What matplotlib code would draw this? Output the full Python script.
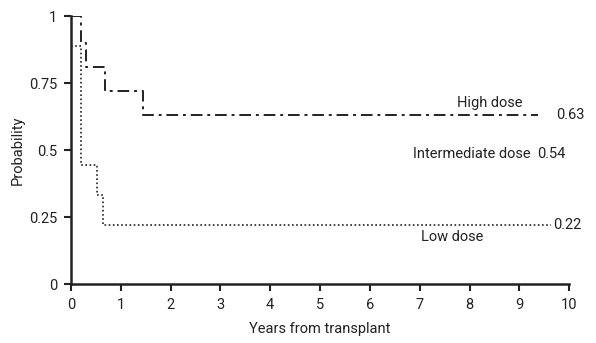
import matplotlib
matplotlib.use("Agg")
from matplotlib import pyplot as plt

plt.rcParams['font.family'] = ['Roboto', 'DejaVu Sans']

# Kaplan-Meier style step curves (years, probability)
high_t = [0, 0.2, 0.3, 0.68, 1.45, 9.38]
high_p = [1.0, 0.9, 0.81, 0.72, 0.63, 0.63]
low_t = [0, 0.2, 0.52, 0.64, 9.64]
low_p = [0.889, 0.444, 0.333, 0.222, 0.222]

xticks = list(range(0, 11))
yticks = [0, 0.25, 0.5, 0.75, 1]
yticklabels = ['0', '0.25', '0.5', '0.75', '1']

ink = '#222222'
fs = 10.5

fig = plt.figure(figsize=(5.96, 3.43), dpi=100)
ax = fig.add_axes([0.119, 0.172, 0.836, 0.781])

ax.step(high_t, high_p, where='post', color=ink, lw=1.4, linestyle=(0, (6, 2.5, 1.5, 2.5)))
ax.step(low_t, low_p, where='post', color=ink, lw=1.2, linestyle=(0, (1, 1.5)))

ax.text(8.4, 0.675, 'High dose', fontsize=fs, color=ink, ha='center', va='center')
ax.text(9.74, 0.63, '0.63', fontsize=fs, color=ink, ha='left', va='center')
ax.text(8.05, 0.485, 'Intermediate dose', fontsize=fs, color=ink, ha='center', va='center')
ax.text(9.36, 0.485, '0.54', fontsize=fs, color=ink, ha='left', va='center')
ax.text(7.65, 0.175, 'Low dose', fontsize=fs, color=ink, ha='center', va='center')
ax.text(9.68, 0.222, '0.22', fontsize=fs, color=ink, ha='left', va='center')

ax.set_xlim(0, 10)
ax.set_ylim(0, 1)
ax.set_xticks(xticks)
ax.set_yticks(yticks)
ax.set_yticklabels(yticklabels)
ax.tick_params(labelsize=fs, colors=ink, width=1.5, length=5, direction='out', pad=5)

for s in ['top', 'right']:
    ax.spines[s].set_visible(False)
for s in ['left', 'bottom']:
    ax.spines[s].set_linewidth(1.8)
    ax.spines[s].set_color(ink)

ax.set_xlabel('Years from transplant', fontsize=fs, color=ink, labelpad=7)
ax.set_ylabel('Probability', fontsize=fs, color=ink, labelpad=3)

plt.savefig('out.png', dpi=100)
